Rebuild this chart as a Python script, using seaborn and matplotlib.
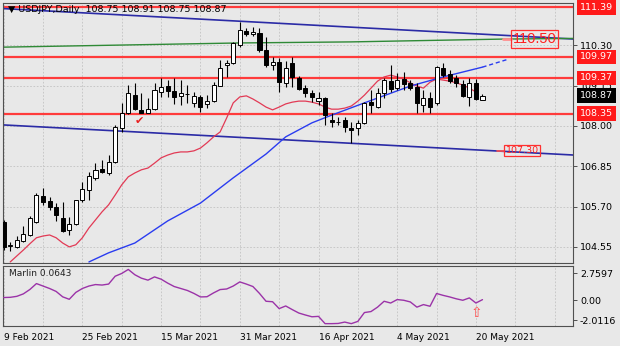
import numpy as np
import pandas as pd
import matplotlib
matplotlib.use("Agg")
import matplotlib.pyplot as plt
import matplotlib.transforms as mtrans
import seaborn as sns

# ---- daily USDJPY candles (open, high, low, close) ----
opens = [105.26, 104.58, 104.55, 104.72, 104.89, 105.26, 106.00, 105.86, 105.69, 105.38,
         105.03, 105.21, 105.89, 106.18, 106.52, 106.77, 106.66, 106.97, 107.94, 108.37,
         108.88, 108.46, 108.37, 108.48, 108.97, 109.14, 109.00, 108.86, 108.91, 108.66,
         108.83, 108.63, 108.71, 109.14, 109.74, 109.80, 110.31, 110.71, 110.62, 110.65,
         110.17, 109.74, 109.82, 109.23, 109.80, 109.37, 109.08, 108.94, 108.71, 108.80,
         108.17, 108.12, 108.17, 107.94, 107.94, 108.09, 108.68, 108.54, 108.94, 109.28,
         109.08, 109.34, 109.23, 109.11, 108.60, 108.80, 108.66, 109.65, 109.48, 109.37,
         109.20, 108.83, 109.23, 108.75]
highs = [105.32, 104.68, 104.86, 105.15, 105.44, 106.09, 106.23, 105.98, 105.80, 105.83,
         105.41, 105.89, 106.40, 106.69, 106.94, 107.03, 107.17, 108.03, 108.66, 109.17,
         109.23, 108.94, 108.80, 109.23, 109.37, 109.31, 109.37, 109.31, 109.17, 108.97,
         108.88, 108.88, 109.25, 109.88, 109.88, 110.40, 110.97, 110.79, 110.82, 110.79,
         110.54, 109.97, 109.94, 109.85, 109.97, 109.43, 109.17, 109.03, 108.97, 108.83,
         108.37, 108.26, 108.26, 108.11, 108.17, 108.68, 109.03, 109.08, 109.37, 109.74,
         109.51, 109.54, 109.31, 109.23, 109.03, 108.97, 109.71, 109.80, 109.60, 109.45,
         109.31, 109.37, 109.34, 108.91]
lows = [104.45, 104.42, 104.52, 104.70, 104.86, 105.23, 105.75, 105.60, 105.29, 104.98,
        104.89, 105.18, 105.83, 105.89, 106.46, 106.66, 106.60, 106.94, 107.83, 108.34,
        108.46, 108.37, 108.37, 108.46, 108.83, 108.83, 108.63, 108.60, 108.66, 108.54,
        108.40, 108.51, 108.68, 109.14, 109.40, 109.77, 110.25, 110.57, 110.57, 110.11,
        109.68, 109.60, 108.97, 109.11, 109.11, 109.03, 108.83, 108.68, 108.60, 108.03,
        107.97, 108.03, 107.83, 107.52, 107.74, 108.06, 108.37, 108.51, 108.80, 108.97,
        109.03, 109.03, 109.03, 108.37, 108.40, 108.37, 108.60, 109.40, 109.23, 109.11,
        108.83, 108.57, 108.75, 108.75]
closes = [104.55, 104.60, 104.75, 104.92, 105.38, 106.03, 105.83, 105.69, 105.46, 105.01,
          105.21, 105.89, 106.20, 106.57, 106.75, 106.69, 106.97, 107.97, 108.37, 108.94,
          108.48, 108.37, 108.48, 109.03, 109.11, 109.00, 108.83, 108.94, 108.92, 108.86,
          108.54, 108.71, 109.17, 109.65, 109.80, 110.37, 110.74, 110.62, 110.68, 110.17,
          109.74, 109.82, 109.25, 109.65, 109.40, 109.06, 108.94, 108.83, 108.80, 108.31,
          108.11, 108.11, 107.97, 107.89, 108.09, 108.66, 108.60, 108.94, 109.31, 109.06,
          109.31, 109.20, 109.08, 108.66, 108.80, 108.54, 109.68, 109.45, 109.28, 109.23,
          108.86, 109.23, 108.77, 108.87]
dates = pd.bdate_range("2021-02-09", periods=len(opens))

# fast moving average (red), one value per bar starting at bar 1
fast_ma = [104.12, 104.29, 104.46, 104.64, 104.81, 104.86, 104.89, 104.81, 104.66, 104.55,
           104.61, 104.81, 105.09, 105.32, 105.55, 105.75, 106.03, 106.32, 106.55, 106.66,
           106.75, 106.80, 106.94, 107.09, 107.17, 107.23, 107.26, 107.26, 107.29, 107.37,
           107.52, 107.69, 107.83, 108.23, 108.66, 108.83, 108.86, 108.77, 108.66, 108.54,
           108.46, 108.54, 108.63, 108.68, 108.71, 108.71, 108.68, 108.63, 108.54, 108.48,
           108.48, 108.51, 108.57, 108.71, 108.88, 109.08, 109.28, 109.40, 109.45, 109.40,
           109.34, 109.23, 109.14, 109.08, 109.25, 109.34, 109.31, 109.28, 109.23, 109.17,
           109.08, 108.97]
fast_ma_start = 1

# slow moving average (blue), read at selected bars
slow_ma_bars = [13, 16, 20, 25, 30, 35, 40, 43, 47, 50, 55, 62, 67, 70, 73]
slow_ma = [104.12, 104.38, 104.66, 105.29, 105.80, 106.52, 107.20, 107.69, 108.09, 108.31,
           108.66, 109.14, 109.40, 109.54, 109.68]
slow_ma_proj_bar, slow_ma_proj = 77, 109.91

# trend lines (bar index, price) and long average
upper_trend_bars, upper_trend = [0, 87], [111.35, 110.48]
lower_trend_bars, lower_trend = [0, 87], [108.03, 107.17]
green_bars, green_line = [0, 36, 53, 76, 87], [110.25, 110.37, 110.40, 110.48, 110.50]

# horizontal levels
levels = [111.39, 109.97, 109.37, 108.35]
label_upper, label_lower = 110.50, 107.30

# Marlin oscillator
marlin = [0.28, 0.30, 0.40, 0.65, 1.10, 1.70, 1.45, 1.20, 0.90, 0.35,
          0.10, 0.80, 1.20, 1.45, 1.60, 1.55, 1.65, 2.45, 2.73, 3.14,
          2.60, 2.25, 2.05, 2.38, 2.15, 1.75, 1.40, 1.20, 1.00, 0.70,
          0.34, 0.36, 0.75, 1.09, 1.15, 1.45, 1.87, 1.65, 1.40, 0.70,
          -0.10, -0.15, -0.85, -0.58, -0.95, -1.30, -1.50, -1.68, -1.64, -2.38,
          -2.38, -2.36, -2.22, -2.38, -2.15, -1.25, -1.15, -0.70, -0.10, -0.28,
          0.07, 0.00, -0.17, -0.70, -0.44, -0.61, 0.69, 0.50, 0.34, 0.15,
          0.00, 0.24, -0.28, 0.0643]
marlin_ticks = [2.7597, 0.0, -2.0116]
marlin_tick_labels = ["2.7597", "0.00", "-2.0116"]

price_ticks = [110.30, 109.15, 108.00, 106.85, 105.70, 104.55]

# ---- style ----
sns.set_theme(style="white")
plt.rcParams["font.family"] = ["DejaVu Sans"]
BG = "#e8e8e8"
SPINE = "#505050"
GRID = "#c2c2c2"
LEVEL_RED = "#ff3b3b"

W, H = 620, 346
fig = plt.figure(figsize=(W / 100, H / 100), dpi=100)
fig.patch.set_facecolor(BG)


def px_axes(left, top, right, bottom):
    return fig.add_axes([left / W, 1 - bottom / H, (right - left) / W, (bottom - top) / H])


ax = px_axes(3, 3, 573, 263)
ax2 = px_axes(3, 266, 573, 326)
XLIM = (-0.1, 86.8)

for a in (ax, ax2):
    a.set_facecolor(BG)
    a.set_xlim(*XLIM)
    for s in a.spines.values():
        s.set_color(SPINE)
        s.set_linewidth(0.8)
    for gx in range(0, 87, 6):
        a.axvline(gx, color=GRID, lw=0.6, ls=(0, (2, 2)), zorder=0)

ax.set_ylim(104.09, 111.51)
ax2.set_ylim(-2.62, 3.49)

# price grid
for p in price_ticks:
    ax.axhline(p, color=GRID, lw=0.6, ls=(0, (2, 2)), zorder=0)

# horizontal levels
for lv in levels:
    ax.axhline(lv, color=LEVEL_RED, lw=1.6, zorder=1)

# trend lines and long average
sns.lineplot(x=upper_trend_bars, y=upper_trend, ax=ax, color="#2b2ba6", lw=1.2, zorder=2)
sns.lineplot(x=lower_trend_bars, y=lower_trend, ax=ax, color="#2b2ba6", lw=1.2, zorder=2)
sns.lineplot(x=green_bars, y=green_line, ax=ax, color="#2f8a36", lw=1.0, zorder=2)

# moving averages
fast_x = np.arange(fast_ma_start, fast_ma_start + len(fast_ma))
sns.lineplot(x=fast_x, y=fast_ma, ax=ax, color="#e23a55", lw=0.9, zorder=3)
sns.lineplot(x=slow_ma_bars, y=slow_ma, ax=ax, color="#2a3cf0", lw=1.0, zorder=3)
ax.plot([slow_ma_bars[-1], slow_ma_proj_bar], [slow_ma[-1], slow_ma_proj],
        color="#2a3cf0", lw=1.0, ls=(0, (3, 2)), zorder=3)

# candles
o = np.array(opens); h = np.array(highs); l = np.array(lows); c = np.array(closes)
xs = np.arange(len(o))
ax.vlines(xs, l, h, color="black", lw=0.8, zorder=4)
up = c >= o
body = np.maximum(np.abs(c - o), 0.012)
ax.bar(xs[up], body[up], bottom=np.minimum(o, c)[up], width=0.62,
       color="white", edgecolor="black", linewidth=0.7, zorder=5)
ax.bar(xs[~up], body[~up], bottom=np.minimum(o, c)[~up], width=0.62,
       color="black", edgecolor="black", linewidth=0.7, zorder=5)

# right price axis
ax.set_xticks([])
ax.yaxis.tick_right()
ax.set_yticks(price_ticks)
ax.set_yticklabels([f"{p:.2f}" for p in price_ticks])
ax.tick_params(axis="y", length=3, width=0.7, color=SPINE, pad=2, labelsize=6.8, labelcolor="black")

rt = mtrans.blended_transform_factory(ax.transAxes, ax.transData)
for lv in levels:
    ax.text(1.0123, lv, f"{lv:.2f}", transform=rt, ha="left", va="center", color="white",
            fontsize=6.8, clip_on=False, zorder=10,
            bbox=dict(boxstyle="square,pad=0.3", fc="#ff1a1a", ec="none"))
ax.text(1.0123, closes[-1], f"{closes[-1]:.2f}", transform=rt, ha="left", va="center",
        color="white", fontsize=6.8, clip_on=False, zorder=10,
        bbox=dict(boxstyle="square,pad=0.3", fc="black", ec="none"))

# price labels on the chart
ax.plot([76.2, 77.4], [label_upper - 0.02, label_upper - 0.02], color="#ff8f8f", lw=2, zorder=6)
ax.text(77.6, label_upper - 0.02, f"{label_upper:.2f}", ha="left", va="center", color="#ff2020",
        fontsize=10.5, family=["Liberation Sans", "DejaVu Sans"], zorder=7,
        bbox=dict(boxstyle="square,pad=0.12", fc="none", ec="#ff3030", lw=0.9))
ax.plot([75.2, 76.3], [label_lower, label_lower], color="#ff5050", lw=1.2, zorder=6)
ax.text(76.5, label_lower, f"{label_lower:.2f}", ha="left", va="center", color="#ff2020",
        fontsize=6.8, zorder=7,
        bbox=dict(boxstyle="square,pad=0.15", fc="none", ec="#ff3030", lw=0.9))

# check mark
ax.text(20.7, 108.14, "\u2714", ha="center", va="center", color="#e81f1f", fontsize=8, zorder=7)

# title
fig.text(8 / W, 1 - 10 / H, "\u25bc USDJPY,Daily  108.75 108.91 108.75 108.87",
         ha="left", va="center", fontsize=6.8, color="black")

# Marlin oscillator panel
sns.lineplot(x=xs, y=marlin, ax=ax2, color="#9b33a8", lw=1.0, zorder=3)
ax2.text(6 / 570, 0.88, f"Marlin {marlin[-1]:.4f}", transform=ax2.transAxes,
         ha="left", va="center", fontsize=6.5, color="#202020")
ax2.text(72.1, -1.25, "\u21e7", ha="center", va="center", color="#ff4d4d", fontsize=10, zorder=5)
ax2.yaxis.tick_right()
ax2.set_yticks(marlin_ticks)
ax2.set_yticklabels(marlin_tick_labels)
ax2.tick_params(axis="y", length=3, width=0.7, color=SPINE, pad=2, labelsize=6.8, labelcolor="black")

tick_bars = list(range(0, len(dates), 12))
ax2.set_xticks(tick_bars)
ax2.set_xticklabels([f"{dates[i].day} {dates[i]:%b %Y}" for i in tick_bars])
for t in ax2.get_xticklabels():
    t.set_ha("left")
ax2.tick_params(axis="x", length=3, width=0.7, color=SPINE, pad=2, labelsize=6.5, labelcolor="black")
ax.set_xlabel(""); ax.set_ylabel(""); ax2.set_xlabel(""); ax2.set_ylabel("")

fig.savefig("out.png", dpi=100, facecolor=BG)
